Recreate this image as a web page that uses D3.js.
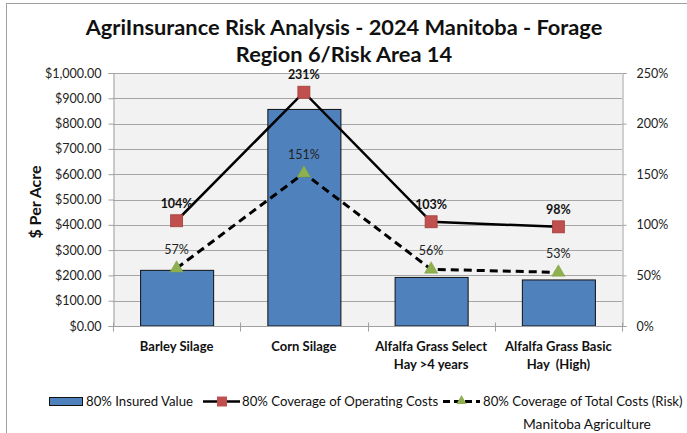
<!DOCTYPE html>
<html><head><meta charset="utf-8">
<script src="https://cdn.jsdelivr.net/npm/d3@7"></script>
<style>
html,body{margin:0;padding:0;background:#fff;}
svg{display:block;}
text{font-family:"Lato","Open Sans",sans-serif;}
</style></head>
<body>
<script>
const categories = ["Barley Silage", "Corn Silage", "Alfalfa Grass Select Hay >4 years", "Alfalfa Grass Basic Hay  (High)"];
const categoryLines = [["Barley Silage"], ["Corn Silage"], ["Alfalfa Grass Select", "Hay >4 years"], ["Alfalfa Grass Basic", "Hay  (High)"]];
const insuredValue = [220, 856, 192, 182];
const operatingCoverage = [1.04, 2.31, 1.03, 0.98];
const totalCoverage = [0.57, 1.51, 0.56, 0.53];
const leftTicks = [0, 100, 200, 300, 400, 500, 600, 700, 800, 900, 1000];
const rightTicks = [0, 0.5, 1, 1.5, 2, 2.5];
const seriesNames = ["80% Insured Value", "80% Coverage of Operating Costs", "80% Coverage of Total Costs (Risk)"];

const W = 687, H = 433;
const svg = d3.select("body").append("svg").attr("width", W).attr("height", H);

// outer chart border
svg.append("rect").attr("x", 6.5).attr("y", 3.5).attr("width", 700).attr("height", 460)
  .attr("fill", "#fff").attr("stroke", "#a0a0a0").attr("stroke-width", 1);

const L = 113, R = 622, T = 73, B = 326;
const x = d3.scaleBand().domain(categories).range([L, R]).paddingInner(0.426).paddingOuter(0.213);
const y = d3.scaleLinear().domain([0, 1000]).range([B, T]);
const y2 = d3.scaleLinear().domain([0, 2.5]).range([B, T]);
const cx = c => x(c) + x.bandwidth() / 2;

// plot area
svg.append("rect").attr("x", L).attr("y", T).attr("width", R - L).attr("height", B - T).attr("fill", "#f2f2f2");

// gridlines
svg.append("g").selectAll("line").data(leftTicks).join("line")
  .attr("x1", L).attr("x2", R).attr("y1", d => Math.round(y(d)) + 0.5).attr("y2", d => Math.round(y(d)) + 0.5)
  .attr("stroke", "#a6a6a6").attr("stroke-width", 1);

// left axis
const fmtDollar = d3.format("$,.2f");
const gl = svg.append("g").attr("transform", `translate(${L + 0.5},0)`)
  .call(d3.axisLeft(y).tickValues(leftTicks).tickFormat(fmtDollar).tickSize(5).tickPadding(7));
gl.select(".domain").attr("stroke", "#a0a0a0");
gl.selectAll(".tick line").attr("stroke", "#a0a0a0");
gl.selectAll(".tick text").attr("font-family", "Lato, sans-serif").attr("font-size", 12.5).attr("fill", "#222");

// right axis
const gr = svg.append("g").attr("transform", `translate(${R + 0.5},0)`)
  .call(d3.axisRight(y2).tickValues(rightTicks).tickFormat(d3.format(".0%")).tickSize(4).tickPadding(10));
gr.select(".domain").attr("stroke", "#a0a0a0");
gr.selectAll(".tick line").attr("stroke", "#a0a0a0");
gr.selectAll(".tick text").attr("font-family", "Lato, sans-serif").attr("font-size", 12.5).attr("fill", "#222");

// bars
svg.append("g").selectAll("rect").data(categories).join("rect")
  .attr("x", c => x(c) + 0.5).attr("y", (c, i) => y(insuredValue[i]))
  .attr("width", x.bandwidth()).attr("height", (c, i) => B - y(insuredValue[i]))
  .attr("fill", "#4f81bd").attr("stroke", "#111").attr("stroke-width", 1);

// bottom axis
const gb = svg.append("g").attr("transform", `translate(0,${B + 0.5})`);
gb.append("line").attr("x1", L).attr("x2", R).attr("stroke", "#a0a0a0");
const bounds = categories.map(c => x(c) - x.step() * x.paddingInner() / 2).concat([R]);
gb.selectAll("line.t").data(bounds).join("line").attr("class", "t")
  .attr("x1", d => Math.round(d) + 0.5).attr("x2", d => Math.round(d) + 0.5).attr("y1", -4).attr("y2", 5)
  .attr("stroke", "#a0a0a0");
const catG = svg.append("g");
categoryLines.forEach((lines, i) => {
  const t = catG.append("text").attr("x", cx(categories[i])).attr("y", 351)
    .attr("text-anchor", "middle").attr("font-weight", "bold").attr("font-size", 13).attr("fill", "#111");
  lines.forEach((ln, j) => t.append("tspan").attr("x", cx(categories[i])).attr("dy", j ? 18 : 0).attr("xml:space", "preserve").text(ln));
});

// lines
const lineOp = d3.line().x((d, i) => cx(categories[i])).y(d => y2(d));
svg.append("path").datum(operatingCoverage).attr("d", lineOp).attr("fill", "none")
  .attr("stroke", "#000").attr("stroke-width", 2.5);
svg.append("path").datum(totalCoverage).attr("d", lineOp).attr("fill", "none")
  .attr("stroke", "#000").attr("stroke-width", 3).attr("stroke-dasharray", "8,5");

// markers
const sq = 12;
svg.append("g").selectAll("rect").data(operatingCoverage).join("rect")
  .attr("x", (d, i) => cx(categories[i]) - sq / 2).attr("y", d => y2(d) - sq / 2)
  .attr("width", sq).attr("height", sq).attr("fill", "#c0504d").attr("stroke", "#a33e3b").attr("stroke-width", 0.8);
const tri = d3.symbol().type(d3.symbolTriangle).size(75);
svg.append("g").selectAll("path").data(totalCoverage).join("path")
  .attr("d", tri).attr("transform", (d, i) => `translate(${cx(categories[i])},${y2(d)})`)
  .attr("fill", "#8fb04e").attr("stroke", "#7a9a3c").attr("stroke-width", 0.5);

// data labels
const pct = d3.format(".0%");
svg.append("g").selectAll("text").data(operatingCoverage).join("text")
  .attr("x", (d, i) => cx(categories[i])).attr("y", d => y2(d) - 13)
  .attr("text-anchor", "middle").attr("font-weight", "bold").attr("font-size", 12.5).attr("fill", "#111").text(d => pct(d));
svg.append("g").selectAll("text").data(totalCoverage).join("text")
  .attr("x", (d, i) => cx(categories[i])).attr("y", d => y2(d) - 14)
  .attr("text-anchor", "middle").attr("font-size", 12.5).attr("fill", "#222").text(d => pct(d));

// y axis title
svg.append("text").attr("transform", "translate(41,202) rotate(-90)").attr("text-anchor", "middle")
  .attr("font-weight", "bold").attr("font-size", 16).attr("fill", "#111").text("$ Per Acre");

// title
svg.append("text").attr("x", 344).attr("y", 35).attr("text-anchor", "middle")
  .attr("font-weight", "bold").attr("font-size", 21.8).attr("fill", "#111").text("AgriInsurance Risk Analysis - 2024 Manitoba - Forage");
svg.append("text").attr("x", 344).attr("y", 62).attr("text-anchor", "middle")
  .attr("font-weight", "bold").attr("font-size", 21.8).attr("fill", "#111").text("Region 6/Risk Area 14");

// legend
const lg = svg.append("g").attr("font-size", 13.2).attr("fill", "#111");
lg.append("rect").attr("x", 49.5).attr("y", 397.5).attr("width", 33).attr("height", 8).attr("fill", "#4f81bd").attr("stroke", "#111");
lg.append("text").attr("x", 86).attr("y", 406).attr("fill", "#111").text(seriesNames[0]);
lg.append("line").attr("x1", 203).attr("x2", 240).attr("y1", 401.5).attr("y2", 401.5).attr("stroke", "#000").attr("stroke-width", 2.5);
lg.append("rect").attr("x", 217).attr("y", 396.5).attr("width", 10).attr("height", 10).attr("fill", "#c0504d");
lg.append("text").attr("x", 242).attr("y", 406).attr("fill", "#111").text(seriesNames[1]);
lg.append("line").attr("x1", 443).attr("x2", 480).attr("y1", 401.5).attr("y2", 401.5).attr("stroke", "#000").attr("stroke-width", 3).attr("stroke-dasharray", "7,4");
lg.append("path").attr("d", d3.symbol().type(d3.symbolTriangle).size(45)).attr("transform", "translate(461.5,401)").attr("fill", "#8fb04e");
lg.append("text").attr("x", 483).attr("y", 406).attr("fill", "#111").text(seriesNames[2]);

svg.append("text").attr("x", 523).attr("y", 429).attr("font-size", 13.8).attr("fill", "#111").text("Manitoba Agriculture");
</script>
</body></html>
